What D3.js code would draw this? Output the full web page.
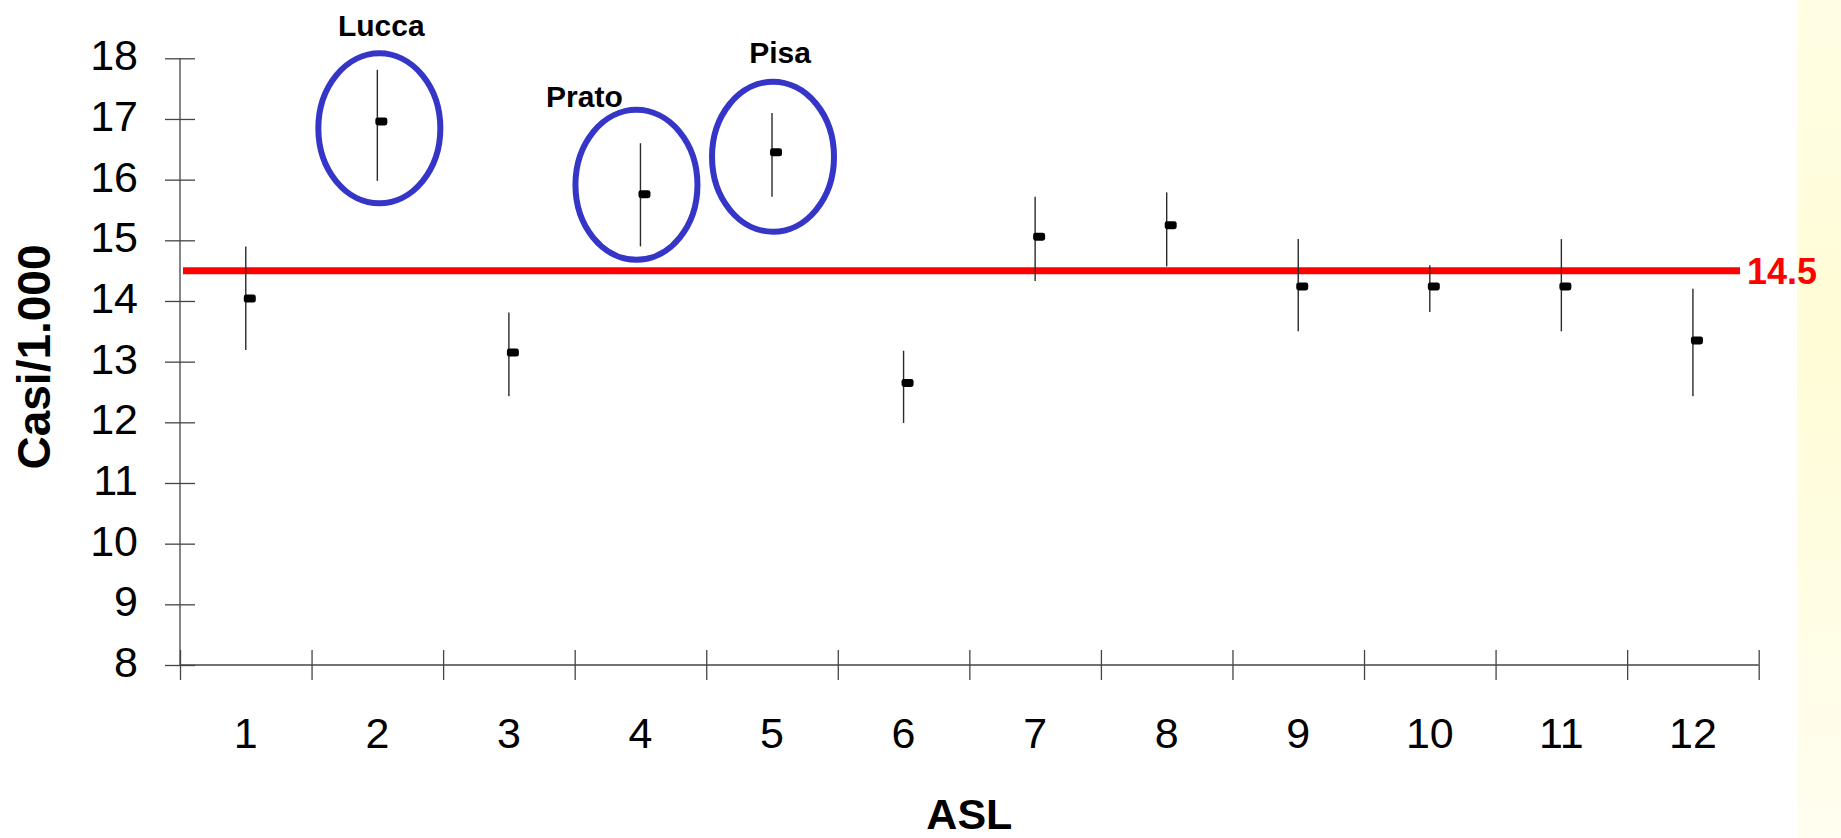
<!DOCTYPE html>
<html>
<head>
<meta charset="utf-8">
<script src="https://cdn.jsdelivr.net/npm/d3@7"></script>
<style>
  html, body { margin: 0; padding: 0; background: #fff; }
  svg { display: block; }
  text { font-family: "Liberation Sans", Arial, Helvetica, sans-serif; }
</style>
</head>
<body>
<svg id="chart" width="1841" height="838"></svg>
<script>
// ASL (local health units) and rates per 1,000 with confidence bounds
const asl = [1, 2, 3, 4, 5, 6, 7, 8, 9, 10, 11, 12];
const rate  = [14.04, 16.96, 13.15, 15.76, 16.45, 12.65, 15.06, 15.25, 14.24, 14.24, 14.24, 13.35];
const upper = [14.90, 17.81, 13.81, 16.60, 17.10, 13.18, 15.72, 15.79, 15.02, 14.59, 15.02, 14.20];
const lower = [13.19, 15.98, 12.43, 14.90, 15.72, 11.99, 14.33, 14.57, 13.50, 13.82, 13.50, 12.43];
const regionalRate = 14.5;
const yTicks = [8, 9, 10, 11, 12, 13, 14, 15, 16, 17, 18];

// Highlighted units
const highlightAsl   = [2, 4, 5];
const highlightNames = ["Lucca", "Prato", "Pisa"];

// Layout
const W = 1841, H = 838;
const plotLeft = 180, plotRight = 1758.7, plotTop = 58.3, plotBottom = 665;
const ringOffset = { Lucca: [2, 3], Prato: [-4, -10], Pisa: [1, 2] };
const nameOffset = { Lucca: [2, -92], Prato: [-52, -78], Pisa: [7, -94] };

const svg = d3.select("#chart");

// Pale yellow strip on the right edge
const defs = svg.append("defs");
const grad = defs.append("linearGradient").attr("id", "strip")
  .attr("x1", 0).attr("y1", 0).attr("x2", 0).attr("y2", 1);
grad.append("stop").attr("offset", "0%").attr("stop-color", "#fffee4");
grad.append("stop").attr("offset", "40%").attr("stop-color", "#fffdd6");
grad.append("stop").attr("offset", "100%").attr("stop-color", "#fffef0");
svg.append("rect").attr("x", 1797).attr("y", 0).attr("width", W - 1797).attr("height", H)
  .attr("fill", "url(#strip)");

const x = d3.scaleBand().domain(asl).range([plotLeft, plotRight]).padding(0);
const xEdges = d3.scaleLinear().domain([0.5, 12.5]).range([plotLeft, plotRight]);
const y = d3.scaleLinear().domain([8, 18]).range([plotBottom, plotTop]);
const cx = d => x(d) + x.bandwidth() / 2;

const axisColor = "#444";

// Y axis
const gy = svg.append("g").attr("transform", `translate(${plotLeft},0)`)
  .call(d3.axisLeft(y).tickValues(yTicks).tickSize(0).tickPadding(42).tickFormat(d3.format("d")));
gy.select(".domain").remove();
gy.selectAll(".tick line").remove();
gy.selectAll(".tick text")
  .attr("font-size", 43).attr("fill", "#000").attr("dy", "0.27em")
  .style("font-family", '"Liberation Sans", Arial, sans-serif');
gy.selectAll(".tick").append("line")
  .attr("x1", -15).attr("x2", 15).attr("stroke", axisColor).attr("stroke-width", 1.3);
gy.append("line").attr("x1", 0).attr("x2", 0).attr("y1", y(18)).attr("y2", y(8))
  .attr("stroke", axisColor).attr("stroke-width", 1.3);

// X axis: labels at band centres, ticks at band edges
const gx = svg.append("g").attr("transform", `translate(0,${plotBottom})`)
  .call(d3.axisBottom(x).tickSize(0).tickPadding(52));
gx.select(".domain").remove();
gx.selectAll(".tick text")
  .attr("font-size", 43).attr("fill", "#000")
  .style("font-family", '"Liberation Sans", Arial, sans-serif');

const gxe = svg.append("g").attr("transform", `translate(0,${plotBottom})`)
  .call(d3.axisBottom(xEdges).tickValues(d3.range(0.5, 13, 1)).tickSize(0).tickFormat(""));
gxe.select(".domain").remove();
gxe.selectAll(".tick").append("line")
  .attr("y1", -15).attr("y2", 15).attr("stroke", axisColor).attr("stroke-width", 1.3);
svg.append("line").attr("x1", plotLeft).attr("x2", plotRight).attr("y1", plotBottom).attr("y2", plotBottom)
  .attr("stroke", axisColor).attr("stroke-width", 1.3);

// Axis titles
svg.append("text")
  .attr("transform", `translate(50,357) rotate(-90)`)
  .attr("text-anchor", "middle").attr("font-size", 46).attr("font-weight", "bold")
  .attr("fill", "#000").text("Casi/1.000");
svg.append("text")
  .attr("x", cx(7) - x.bandwidth() / 2).attr("y", 829)
  .attr("text-anchor", "middle").attr("font-size", 43).attr("font-weight", "bold")
  .attr("fill", "#000").text("ASL");

// Regional reference line
svg.append("line")
  .attr("x1", 183).attr("x2", 1740).attr("y1", y(regionalRate)).attr("y2", y(regionalRate))
  .attr("stroke", "#ff0000").attr("stroke-width", 7);
svg.append("text")
  .attr("x", 1747).attr("y", y(regionalRate) + 13)
  .attr("font-size", 36).attr("font-weight", "bold").attr("fill", "#ff0000")
  .text(d3.format(".1f")(regionalRate));

// Confidence intervals
svg.append("g").selectAll("line").data(asl).join("line")
  .attr("x1", d => cx(d)).attr("x2", d => cx(d))
  .attr("y1", (d, i) => y(upper[i])).attr("y2", (d, i) => y(lower[i]))
  .attr("stroke", "#2a2a2a").attr("stroke-width", 1.4);

// Point estimates
svg.append("g").selectAll("rect").data(asl).join("rect")
  .attr("x", d => cx(d) - 2).attr("y", (d, i) => y(rate[i]) - 4)
  .attr("width", 12).attr("height", 8).attr("rx", 2.4)
  .attr("fill", "#000");

// Highlight rings and names
highlightAsl.forEach((a, k) => {
  const name = highlightNames[k];
  const i = asl.indexOf(a);
  const mid = (upper[i] + lower[i]) / 2;
  const ex = cx(a) + ringOffset[name][0];
  const ey = y(mid) + ringOffset[name][1];
  svg.append("ellipse")
    .attr("cx", ex).attr("cy", ey).attr("rx", 61).attr("ry", 75)
    .attr("fill", "none").attr("stroke", "#3535c8").attr("stroke-width", 6);
  svg.append("text")
    .attr("x", ex + nameOffset[name][0]).attr("y", ey + nameOffset[name][1])
    .attr("text-anchor", "middle").attr("font-size", 30).attr("font-weight", "bold")
    .attr("fill", "#000").text(name);
});
</script>
</body>
</html>
